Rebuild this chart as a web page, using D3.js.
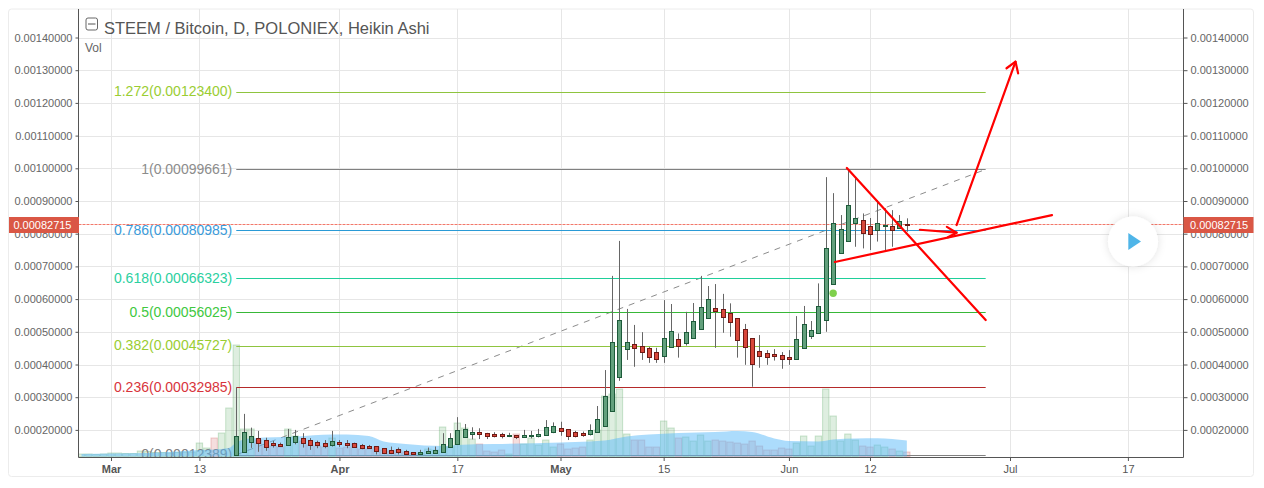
<!DOCTYPE html>
<html><head><meta charset="utf-8">
<script src="https://cdn.jsdelivr.net/npm/d3@7/dist/d3.min.js"></script>
<style>html,body{margin:0;padding:0;background:#fff}svg{display:block}text{font-family:"Liberation Sans",Arial,sans-serif}</style>
</head><body><div id="chart"></div>
<script>
// prices are in units of 0.00001 BTC; candles are daily from 2017-03-18
const firstCandle = "2017-03-18";
const opens = [12.3,13.3,16.4,17.4,16.8,16.0,15.7,15.5,16.4,17.4,16.8,16.2,16.0,15.4,
 16.2,16.0,15.9,15.4,15.0,15.0,14.4,13.8,14.2,13.5,13.2,12.7,13.0,13.0,13.3,14.7,15.8,17.9,18.7,19.4,19.0,18.7,18.7,18.2,18.4,17.8,18.1,18.1,18.5,19.5,
 20.5,20.2,19.3,19.1,18.7,19.3,21.3,25.9,36.3,44.8,46.2,45.6,45.0,43.7,42.7,45.3,47.7,46.7,48.2,50.8,54.1,57.2,56.9,55.6,54.1,50.8,48.0,44.0,43.4,43.1,42.8,
 42.2,41.8,45.0,48.6,49.5,53.5,64.5,74.0,77.7,83.2,84.1,82.3,81.0,82.3,82.3,81.7,82.9];
const highs = [33.0,24.9,20.7,19.7,17.6,16.6,16.1,20.3,20.0,19.0,17.5,16.7,16.9,19.7,
 16.9,16.9,16.1,15.7,15.4,15.0,14.4,14.9,14.6,13.9,13.2,13.9,14.6,14.9,19.0,19.0,23.9,21.8,20.8,20.5,19.1,19.3,19.1,19.1,18.4,20.0,19.7,20.3,23.0,22.3,
 22.5,20.2,19.7,19.5,21.7,27.3,38.3,67.1,77.8,57.0,52.1,49.9,45.4,45.1,59.7,58.5,49.5,56.1,58.8,67.1,64.0,64.6,61.6,58.7,54.1,52.4,48.0,49.0,44.4,44.7,43.8,
 44.4,54.8,57.9,53.3,64.8,97.3,92.4,85.7,99.66,96.9,86.2,84.8,90.3,87.8,87.2,85.7,84.7];
const lows = [12.3,13.2,14.5,13.3,13.6,14.6,14.8,15.2,15.6,14.6,13.9,14.4,14.4,14.9,
 14.8,14.4,14.6,14.1,14.4,12.5,12.6,12.6,12.5,12.5,12.5,12.5,12.7,12.9,13.2,14.6,15.6,17.6,17.1,17.2,17.2,17.7,17.4,17.8,17.2,17.6,17.4,17.7,18.2,19.0,
 18.2,16.9,17.7,17.9,18.3,19.3,21.3,25.5,35.0,41.4,39.3,41.4,40.5,40.5,40.5,45.3,42.1,45.8,48.2,50.8,54.1,45.1,49.7,48.5,42.1,39.9,33.2,39.0,39.9,41.2,38.7,
 39.9,41.8,45.0,47.8,49.5,50.0,64.5,74.0,77.7,76.0,75.5,75.0,77.6,75.0,76.0,81.7,80.6];
const closes = [18.2,19.5,18.0,16.1,14.9,15.4,15.2,17.7,18.0,16.1,15.3,15.5,15.2,16.6,
 15.7,15.5,14.9,14.5,14.6,13.6,13.0,13.0,13.2,12.7,12.7,13.2,13.6,13.9,15.6,17.4,19.9,20.3,19.4,18.7,18.2,18.1,18.1,18.5,17.8,18.4,18.4,18.7,20.8,21.1,
 19.8,18.2,18.2,18.4,19.9,23.2,30.4,46.8,53.6,47.0,45.1,43.9,42.4,41.8,48.0,50.2,45.8,49.9,53.2,57.5,59.9,56.4,54.6,52.9,47.4,45.3,40.1,42.7,42.4,42.7,41.6,
 41.8,47.7,52.3,50.5,57.8,75.5,83.2,81.4,88.7,84.7,80.1,79.8,83.2,82.6,81.0,83.8,82.715];

// volume (relative units), daily from 2017-02-25
const firstVolume = "2017-02-25";
const earlyVolumeUp = [true,true,true,true,true,true,true,true,true,true,true,true,true,true,true,true,true,true,false,true,true];
const volumes = [2.5,2.5,2,2.5,3.5,3.5,3,3,5.5,5,4,4,3.5,4,4.5,4.5,
 13.5,8.5,18.5,23.5,48.5,
 111.5,27.5,27.5,16.5,10.5,10.5,9.5,27.5,20.5,15.5,11.5,10.5,9.5,18.5,
 8.5,9.5,12.5,7.5,7.5,9.5,6.5,5.5,6.5,4.5,3.5,3.5,7.5,6.5,29.5,9.5,33.5,28.5,17.5,12.5,5.5,4.5,6.5,2.5,22.5,12.5,18.5,11.5,16.5,9.5,
 12.5,7.5,8.5,9.5,16.5,26.5,60.5,62.5,67.5,22.5,16.5,16.5,9.5,9.5,35.5,28.5,18.5,19.5,15.5,21.5,15.5,16.5,15.5,14.5,13.5,12.5,15.5,10.5,6.5,6.5,8.5,
 7.5,13.5,20.5,10.5,20.5,67.5,40.5,15.5,22.5,16.5,10.5,9.5,11.5,9.5,7.5,5.5,4.5];

// volume moving average, read at sample dates
const maDates = ["02-25","03-01","03-06","03-10","03-13","03-15","03-17","03-18","03-19","03-20","03-26","03-31","04-02","04-05","04-07","04-10","04-15","04-17","04-22","05-01","05-05","05-07","05-10","05-13","05-17","05-22","05-25","05-27","05-30","06-01","06-05","06-07","06-10","06-13","06-17"];
const maValues = [2.5,3,3.5,5,6.5,7,8.5,14,17,18,20,22,22,20.5,15,12.5,10.5,11.5,12.5,14,15,16,20,22,23.5,24.5,25.5,24.5,18,15.5,15,17,18,18.2,16];

const fibLabels = ["1.272(0.00123400)","1(0.00099661)","0.786(0.00080985)","0.618(0.00066323)","0.5(0.00056025)","0.382(0.00045727)","0.236(0.00032985)","0(0.00012389)"];
const fibValues = [123.4,99.661,80.985,66.323,56.025,45.727,32.985,12.389];
const fibLineColors = ["#8fc43f","#808080","#2a9ad6","#1fcf9a","#38b838","#8fc43f","#b52a2a","#808080"];
const fibTextColors = ["#9acd32","#8c8c8c","#3a9ad9","#2bd0a0","#40c840","#9acd32","#d8343c","#808080"];
const fibStart = "2017-03-18";
const fibEndDay = 118.7; // days after Mar 1

const priceTicks = [20,30,40,50,60,70,80,90,100,110,120,130,140];
const timeTickDates = ["2017-03-01","2017-03-13","2017-04-01","2017-04-17","2017-05-01","2017-05-15","2017-06-01","2017-06-12","2017-07-01","2017-07-17"];
const timeTickLabels = ["Mar","13","Apr","17","May","15","Jun","12","Jul","17"];
const boldTicks = ["Mar","Apr","May"];
const lastPrice = 82.715;

// hand-drawn annotations: [day after Mar 1, price]
const drawnLines = [
 [[99.86,100.1],[118.7,53.6]],
 [[98.24,71.35],[127.7,85.7]],
 [[109.77,81.2],[114.75,80.3]],
 [[113.43,82.1],[114.75,80.3],[113.57,78.9]],
 [[114.75,82.66],[122.75,132.6]],
 [[121.53,130.6],[122.75,132.6],[123.1,129.05]]
];
const dotPoint = {date:"2017-06-07", price:61.8};

const W=1264,H=488, L=78.5,R=1183.5,T=9,B=457;
const svg=d3.select("#chart").append("svg").attr("width",W).attr("height",H);
const parse=s=>new Date(s+"T00:00:00Z");
const base=parse("2017-03-01");
const x=d3.scaleUtc().domain([base,parse("2017-07-01")]).range([111,1010]);
const xd=d=>x(new Date(+base+d*864e5));
const y=d3.scaleLinear().domain([20,140]).range([429.9,37.5]);
const yVol=d3.scaleLinear().domain([0,120]).range([456.5,336.5]);
const fmt=d=>(d/1e5).toFixed(8);

const defs=svg.append("defs");
defs.append("clipPath").attr("id","plot").append("rect").attr("x",L).attr("y",T).attr("width",R-L).attr("height",B-T);
const f=defs.append("filter").attr("id","sh").attr("x","-40%").attr("y","-40%").attr("width","180%").attr("height","180%");
f.append("feDropShadow").attr("dx",0).attr("dy",0).attr("stdDeviation",4).attr("flood-color","#000").attr("flood-opacity",0.12);

// outer border
svg.append("rect").attr("x",8.5).attr("y",9).attr("width",1245).attr("height",467.5).attr("rx",3).attr("fill","#fff").attr("stroke","#ececec");

// grid
const grid=svg.append("g");
grid.selectAll("line.h").data(priceTicks).join("line").attr("x1",L).attr("x2",R).attr("y1",d=>Math.round(y(d))+.5).attr("y2",d=>Math.round(y(d))+.5).attr("stroke","#e6e6e6");
grid.selectAll("line.v").data(timeTickDates).join("line").attr("class","v").attr("y1",T).attr("y2",B).attr("x1",d=>Math.round(x(parse(d)))+.5).attr("x2",d=>Math.round(x(parse(d)))+.5).attr("stroke","#e6e6e6");

const plot=svg.append("g").attr("clip-path","url(#plot)");

// volume
const volStart=parse(firstVolume), candleStart=parse(firstCandle);
const volData=volumes.map((v,i)=>{
  const date=d3.utcDay.offset(volStart,i);
  const up=i<earlyVolumeUp.length?earlyVolumeUp[i]:closes[i-earlyVolumeUp.length]>=opens[i-earlyVolumeUp.length];
  return {date,v,up};
});
const dayW=x(parse("2017-03-02"))-x(parse("2017-03-01"));
plot.append("g").selectAll("rect").data(volData).join("rect")
 .attr("x",d=>x(d.date)-dayW/2+.5).attr("width",dayW-1)
 .attr("y",d=>yVol(d.v)).attr("height",d=>yVol(0)-yVol(d.v))
 .attr("fill",d=>d.up?"rgba(90,170,100,.2)":"rgba(205,90,90,.2)")
 .attr("stroke",d=>d.up?"rgba(90,170,100,.3)":"rgba(205,90,90,.3)");

// fib trend diagonal
plot.append("line").attr("x1",x(parse(fibStart))).attr("y1",y(fibValues[7])).attr("x2",xd(fibEndDay)).attr("y2",y(fibValues[1]))
 .attr("stroke","#8c8c8c").attr("stroke-dasharray","6 6");

// fib levels
const fib=plot.append("g");
fib.selectAll("line").data(fibValues).join("line")
 .attr("x1",x(parse(fibStart))).attr("x2",xd(fibEndDay))
 .attr("y1",d=>Math.round(y(d))+.5).attr("y2",d=>Math.round(y(d))+.5)
 .attr("stroke",(d,i)=>fibLineColors[i]);
fib.selectAll("text").data(fibLabels).join("text")
 .attr("x",x(parse(fibStart))-4).attr("y",(d,i)=>y(fibValues[i])+4.5)
 .attr("text-anchor","end").attr("font-size",14).attr("fill",(d,i)=>fibTextColors[i]).text(d=>d);

// volume MA area
const maData=maDates.map((d,i)=>({date:parse("2017-"+d),v:maValues[i]}));
plot.append("path").datum(maData)
 .attr("d",d3.area().x(d=>x(d.date)).y0(yVol(0)).y1(d=>yVol(d.v)).curve(d3.curveMonotoneX))
 .attr("fill","rgba(90,185,250,.5)");

// last price line
plot.append("line").attr("x1",L).attr("x2",R).attr("y1",224.5).attr("y2",224.5)
 .attr("stroke","#f2786a").attr("stroke-dasharray","3 1");

// candles
const candles=opens.map((o,i)=>({date:d3.utcDay.offset(candleStart,i),o,h:highs[i],l:lows[i],c:closes[i]}));
const cg=plot.append("g");
const snap=v=>Math.round(v);
cg.selectAll("line").data(candles).join("line")
 .attr("x1",d=>snap(x(d.date))+.5).attr("x2",d=>snap(x(d.date))+.5)
 .attr("y1",d=>y(d.h)).attr("y2",d=>y(d.l)).attr("stroke","#666");
cg.selectAll("rect").data(candles).join("rect")
 .attr("x",d=>snap(x(d.date))-1.5).attr("width",4)
 .attr("y",d=>snap(y(Math.max(d.o,d.c)))+.5)
 .attr("height",d=>Math.max(1,snap(y(Math.min(d.o,d.c)))-snap(y(Math.max(d.o,d.c)))))
 .attr("fill",d=>d.c>=d.o?"#62a07c":"#d8473a")
 .attr("stroke",d=>d.c>=d.o?"#1d5a3a":"#6e1a15");

// dot
plot.append("circle").attr("cx",x(parse(dotPoint.date))).attr("cy",y(dotPoint.price)).attr("r",3.7).attr("fill","#7fd04c");

// drawings
const lineGen=d3.line().x(d=>xd(d[0])).y(d=>y(d[1]));
plot.append("g").selectAll("path").data(drawnLines).join("path").attr("d",lineGen)
 .attr("fill","none").attr("stroke","#ff0000").attr("stroke-width",2.2).attr("stroke-linecap","round").attr("stroke-linejoin","round");

// axes
const axisCol="#555";
const styleAxis=g=>{g.selectAll(".domain").remove();g.selectAll(".tick line").attr("stroke",axisCol);g.selectAll(".tick text").attr("fill","#666").attr("font-size",11).attr("font-family","Liberation Sans");};
svg.append("g").attr("transform",`translate(${L},0)`).call(d3.axisLeft(y).tickValues(priceTicks).tickFormat(fmt).tickSize(3).tickPadding(3)).call(styleAxis);
svg.append("g").attr("transform",`translate(${R},0)`).call(d3.axisRight(y).tickValues(priceTicks).tickFormat(fmt).tickSize(4).tickPadding(3)).call(styleAxis);
const xAxis=svg.append("g").attr("transform",`translate(0,${B})`).call(d3.axisBottom(x).tickValues(timeTickDates.map(parse)).tickFormat((d,i)=>timeTickLabels[i]).tickSize(4).tickPadding(4)).call(styleAxis);
xAxis.selectAll(".tick text").attr("font-size",11).attr("fill","#555").attr("font-weight",(d,i)=>boldTicks.includes(timeTickLabels[i])?"bold":"normal");
svg.append("line").attr("x1",L).attr("x2",L).attr("y1",T).attr("y2",B+.5).attr("stroke",axisCol);
svg.append("line").attr("x1",R).attr("x2",R).attr("y1",T).attr("y2",B+.5).attr("stroke",axisCol);
svg.append("line").attr("x1",L).attr("x2",R).attr("y1",B+.5).attr("y2",B+.5).attr("stroke",axisCol);

// last price tags
[[9,70,71.5,"end"],[1183.5,70,1190,"start"]].forEach(([bx,bw,tx,anc])=>{
  svg.append("rect").attr("x",bx).attr("y",217).attr("width",bw).attr("height",16).attr("fill","#da5745");
  svg.append("text").attr("x",tx).attr("y",y(lastPrice)+4).attr("text-anchor",anc).attr("font-size",11).attr("fill","#fff").text(fmt(lastPrice));
});

// header
svg.append("rect").attr("x",86).attr("y",18).attr("width",11.5).attr("height",12).attr("rx",2).attr("fill","#fff").attr("stroke","#666");
svg.append("line").attr("x1",88).attr("x2",95.5).attr("y1",24).attr("y2",24).attr("stroke","#555");
svg.append("text").attr("x",104).attr("y",34).attr("font-size",16.5).attr("fill","#555").text("STEEM / Bitcoin, D, POLONIEX, Heikin Ashi");
svg.append("text").attr("x",85).attr("y",52).attr("font-size",12).attr("fill","#666").text("Vol");

// play button
svg.append("circle").attr("cx",1133).attr("cy",241.5).attr("r",25).attr("fill","#fff").attr("filter","url(#sh)");
svg.append("path").attr("d",d3.line()([[1128.3,233],[1141,241.5],[1128.3,250]])+"Z").attr("fill","#4fb5e8");
</script></body></html>
